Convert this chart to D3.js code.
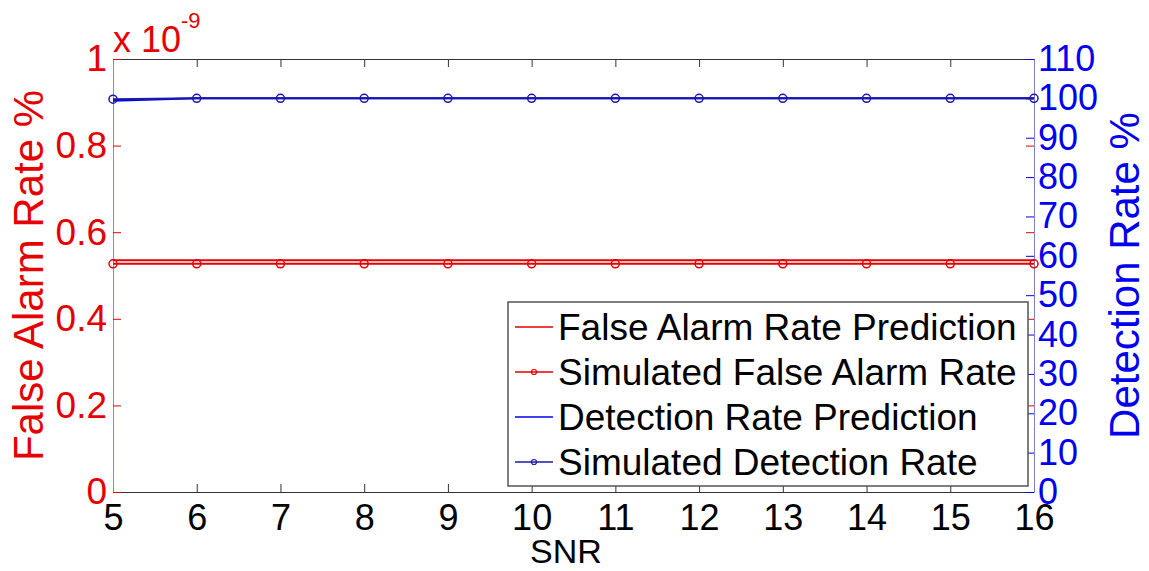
<!DOCTYPE html>
<html>
<head>
<meta charset="utf-8">
<script src="https://cdn.jsdelivr.net/npm/d3@7"></script>
<style>
body { margin: 0; background: #fff; }
svg { font-family: "Liberation Sans", Arial, sans-serif; }
</style>
</head>
<body>
<div id="chart"></div>
<script>
const width = 1149
const height = 571
const margin = {top: 59, right: 115, bottom: 79, left: 113}

// data (false alarm values are x 10^-9)
const snr = [5, 6, 7, 8, 9, 10, 11, 12, 13, 14, 15, 16]
const faPrediction = [0.535, 0.535, 0.535, 0.535, 0.535, 0.535, 0.535, 0.535, 0.535, 0.535, 0.535, 0.535]
const faSimulated = [0.527, 0.527, 0.527, 0.527, 0.527, 0.527, 0.527, 0.527, 0.527, 0.527, 0.527, 0.527]
const detPrediction = [99.4, 100, 100, 100, 100, 100, 100, 100, 100, 100, 100, 100]
const detSimulated = [99.8, 100, 100, 100, 100, 100, 100, 100, 100, 100, 100, 100]

const leftTicks = [0, 0.2, 0.4, 0.6, 0.8, 1]
const rightTicks = [0, 10, 20, 30, 40, 50, 60, 70, 80, 90, 100, 110]

const legendLabels = ['False Alarm Rate Prediction', 'Simulated False Alarm Rate',
                      'Detection Rate Prediction', 'Simulated Detection Rate']

const red = '#e60000'
const blue = '#0000f0'
const darkBlue = '#1a1aa8'

const svg = d3.select('#chart')
            .append('svg')
            .attr('width', width)
            .attr('height', height)

const x = d3.scaleLinear()
            .domain([5, 16])
            .range([margin.left, width - margin.right])

const yLeft = d3.scaleLinear()
               .domain([0, 1])
               .range([height - margin.bottom, margin.top])

const yRight = d3.scaleLinear()
                .domain([0, 110])
                .range([height - margin.bottom, margin.top])

const tickLen = 8

const styleAxis = function(g, color, fontSize) {
    g.selectAll('.tick line').attr('stroke', color)
    g.selectAll('.tick text')
     .attr('fill', color)
     .style('font-size', fontSize)
     .style('font-family', '"Liberation Sans", Arial, sans-serif')
}

// bottom axis
const bottomAxis = svg.append('g')
   .attr('transform', `translate(0,${height - margin.bottom})`)
   .call(d3.axisBottom(x).tickValues(snr).tickSizeInner(-tickLen).tickSizeOuter(0).tickPadding(12))
bottomAxis.select('.domain').attr('stroke', '#333')
styleAxis(bottomAxis, '#000', '36px')
bottomAxis.selectAll('.tick line').attr('stroke', '#333')

// top axis (ticks only)
const topAxis = svg.append('g')
   .attr('transform', `translate(0,${margin.top})`)
   .call(d3.axisTop(x).tickValues(snr).tickSizeInner(-tickLen).tickSizeOuter(0).tickFormat(''))
topAxis.select('.domain').attr('stroke', '#333')
topAxis.selectAll('.tick line').attr('stroke', '#333')

// left axis (false alarm)
const leftAxis = svg.append('g')
   .attr('transform', `translate(${margin.left},0)`)
   .call(d3.axisLeft(yLeft).tickValues(leftTicks).tickSizeInner(-tickLen).tickSizeOuter(0).tickPadding(6)
          .tickFormat(d => d === 0 || d === 1 ? d3.format('d')(d) : d3.format('.1f')(d)))
leftAxis.select('.domain').attr('stroke', '#e07070')
styleAxis(leftAxis, red, '37px')

// mirrored left ticks on the right side
const leftMirror = svg.append('g')
   .attr('transform', `translate(${width - margin.right},0)`)
   .call(d3.axisRight(yLeft).tickValues(leftTicks.slice(1, -1)).tickSizeInner(-tickLen).tickSizeOuter(0).tickFormat(''))
leftMirror.select('.domain').remove()
leftMirror.selectAll('.tick line').attr('stroke', red)

// right axis (detection)
const rightAxis = svg.append('g')
   .attr('transform', `translate(${width - margin.right},0)`)
   .call(d3.axisRight(yRight).tickValues(rightTicks).tickSizeInner(-tickLen).tickSizeOuter(0).tickPadding(4))
rightAxis.select('.domain').attr('stroke', '#8080c8')
styleAxis(rightAxis, blue, '36px')

// exponent label
const expo = svg.append('text')
   .attr('x', margin.left)
   .attr('y', 52)
   .attr('fill', red)
   .style('font-size', '36px')
expo.append('tspan').text('x 10')
expo.append('tspan').attr('dy', -24).style('font-size', '22px').text('-9')

// axis titles
svg.append('text')
   .attr('transform', `translate(43,${(margin.top + height - margin.bottom) / 2}) rotate(-90)`)
   .attr('text-anchor', 'middle')
   .attr('fill', red)
   .style('font-size', '42px')
   .text('False Alarm Rate %')

svg.append('text')
   .attr('transform', `translate(1139,${(margin.top + height - margin.bottom) / 2}) rotate(-90)`)
   .attr('text-anchor', 'middle')
   .attr('fill', blue)
   .style('font-size', '42px')
   .text('Detection Rate %')

svg.append('text')
   .attr('x', 566)
   .attr('y', 563)
   .attr('text-anchor', 'middle')
   .attr('fill', '#000')
   .style('font-size', '34px')
   .text('SNR')

// lines
const series = [
    {values: faPrediction, y: yLeft, color: red, marker: false},
    {values: faSimulated, y: yLeft, color: red, marker: true},
    {values: detPrediction, y: yRight, color: blue, marker: false},
    {values: detSimulated, y: yRight, color: darkBlue, marker: true},
]

series.forEach(function(s) {
    const line = d3.line()
                   .x((d, i) => x(snr[i]))
                   .y(d => s.y(d))
    svg.append('path')
       .datum(s.values)
       .attr('d', line)
       .attr('fill', 'none')
       .attr('stroke', s.color)
       .attr('stroke-width', 2)
    if (s.marker) {
        svg.selectAll(null)
           .data(s.values)
           .enter()
           .append('circle')
           .attr('cx', (d, i) => x(snr[i]))
           .attr('cy', d => s.y(d))
           .attr('r', 4)
           .attr('fill', 'none')
           .attr('stroke', s.color)
           .attr('stroke-width', 1.5)
    }
})

// legend
const legend = svg.append('g').attr('transform', 'translate(508,302)')
legend.append('rect')
      .attr('width', 520)
      .attr('height', 184)
      .attr('fill', '#fff')
      .attr('stroke', '#555')
      .attr('stroke-width', 1.5)

legendLabels.forEach(function(label, i) {
    const ly = 25 + i * 45
    legend.append('line')
          .attr('x1', 7).attr('x2', 45)
          .attr('y1', ly).attr('y2', ly)
          .attr('stroke', series[i].color)
          .attr('stroke-width', 1.5)
    if (series[i].marker) {
        legend.append('circle')
              .attr('cx', 26).attr('cy', ly).attr('r', 2.5)
              .attr('fill', 'none')
              .attr('stroke', series[i].color)
              .attr('stroke-width', 1.2)
    }
    legend.append('text')
          .attr('x', 50)
          .attr('y', ly + 13)
          .attr('fill', '#000')
          .style('font-size', '37px')
          .text(label)
})
</script>
</body>
</html>
